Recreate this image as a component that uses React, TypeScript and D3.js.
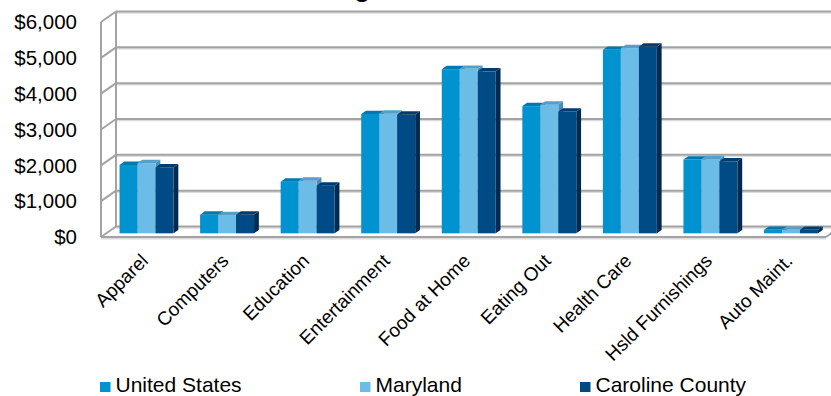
import React from "react";
import * as d3 from "d3";

const categories = [
  "Apparel",
  "Computers",
  "Education",
  "Entertainment",
  "Food at Home",
  "Eating Out",
  "Health Care",
  "Hsld Furnishings",
  "Auto Maint.",
];
const seriesNames = ["United States", "Maryland", "Caroline County"];
const unitedStates = [1910, 520, 1440, 3330, 4580, 3550, 5120, 2060, 100];
const maryland = [1960, 510, 1470, 3340, 4590, 3590, 5170, 2070, 100];
const carolineCounty = [1840, 520, 1330, 3310, 4520, 3400, 5210, 2010, 100];
const yTicks = [0, 1000, 2000, 3000, 4000, 5000, 6000];
const titleText = "Average Annual Costs";

const W = 831;
const H = 396;
const FONT = "'Liberation Sans', Arial, Helvetica, sans-serif";

// 3D box geometry: front floor edge, and depth offset toward the back wall
const floorLeft = 101;
const floorRight = 826;
const floorY = 237;
const depthX = 15;
const depthY = -10.5;
// bars sit in the middle of the depth
const barFront = 0.35;
const barDepth = 0.32;

const colors = [
  { front: "#0093d0", top: "#0079ae", side: "#00699a" },
  { front: "#6bbde8", top: "#559fc8", side: "#4a8db3" },
  { front: "#004a85", top: "#003c6d", side: "#002b50" },
];

export default function App() {
  const values = [unitedStates, maryland, carolineCounty];

  const x = d3.scaleBand<string>().domain(categories).range([floorLeft, floorRight]).paddingInner(0);
  const xs = d3
    .scaleBand<string>()
    .domain(seriesNames)
    .range([13.3, x.bandwidth() - 13.3])
    .paddingInner(0);
  const y = d3.scaleLinear().domain([0, 6000]).range([floorY, floorY - 215]);

  const bfx = depthX * barFront;
  const bfy = depthY * barFront;
  const bdx = depthX * barDepth;
  const bdy = depthY * barDepth;

  const gridColor = "#a3a3a3";
  const shadowColor = "#dcdcdc";

  const bars: React.ReactNode[] = [];
  categories.forEach((c, ci) => {
    seriesNames.forEach((s, si) => {
      const v = values[si][ci];
      const x0 = (x(c) as number) + (xs(s) as number) + bfx;
      const w = xs.bandwidth();
      const yb = y(0) + bfy;
      const yt = y(v) + bfy;
      const col = colors[si];
      bars.push(
        <g key={`${ci}-${si}`}>
          <polygon
            points={`${x0 + w},${yt} ${x0 + w + bdx},${yt + bdy} ${x0 + w + bdx},${yb + bdy} ${x0 + w},${yb}`}
            fill={col.side}
          />
          <rect x={x0} y={yt} width={w} height={yb - yt} fill={col.front} />
          <polygon
            points={`${x0},${yt} ${x0 + w},${yt} ${x0 + w + bdx},${yt + bdy} ${x0 + bdx},${yt + bdy}`}
            fill={col.top}
          />
        </g>
      );
    });
  });

  const backLeft = floorLeft + depthX;
  const backRight = floorRight + depthX;

  return (
    <svg width={W} height={H} style={{ display: "block", position: "absolute", left: 0, top: 0 }}>
      <rect width={W} height={H} fill="#ffffff" />
      {/* chart title, partly above the top edge */}
      <text x={283} y={-3.5} fontFamily={FONT} fontSize={26} fontWeight="bold" fill="#000">
        {titleText}
      </text>

      {/* back wall gridlines and side wall diagonals */}
      {yTicks.map((t) => {
        const yf = y(t);
        const yk = yf + depthY;
        return (
          <g key={t}>
            <line x1={backLeft} x2={backRight} y1={yk + 1.5} y2={yk + 1.5} stroke={shadowColor} strokeWidth={1.5} />
            <line x1={backLeft} x2={backRight} y1={yk} y2={yk} stroke={gridColor} strokeWidth={2} />
            <line x1={floorLeft} y1={yf} x2={backLeft} y2={yk} stroke={gridColor} strokeWidth={2} />
          </g>
        );
      })}
      {/* side wall verticals */}
      <line x1={floorLeft} x2={floorLeft} y1={y(6000)} y2={floorY} stroke={gridColor} strokeWidth={2} />
      <line x1={backLeft} x2={backLeft} y1={y(6000) + depthY} y2={floorY + depthY} stroke={gridColor} strokeWidth={2} />
      {/* floor front edge */}
      <line x1={floorLeft} x2={floorRight} y1={floorY + 1.5} y2={floorY + 1.5} stroke={shadowColor} strokeWidth={2} />
      <line x1={floorLeft} x2={floorRight} y1={floorY} y2={floorY} stroke={gridColor} strokeWidth={2} />
      <line x1={floorRight} y1={floorY} x2={backRight} y2={floorY + depthY} stroke={gridColor} strokeWidth={2} />

      {bars}

      {/* value axis labels */}
      {yTicks.map((t) => (
        <text
          key={t}
          x={77}
          y={y(t)}
          dy="0.35em"
          textAnchor="end"
          fontFamily={FONT}
          fontSize={20.5}
          fill="#000"
        >
          {d3.format("$,")(t)}
        </text>
      ))}

      {/* category labels */}
      {categories.map((c) => {
        const cx = (x(c) as number) + x.bandwidth() / 2 + 8;
        const cy = 262;
        return (
          <text
            key={c}
            transform={`translate(${cx},${cy}) rotate(-45)`}
            textAnchor="end"
            fontFamily={FONT}
            fontSize={19}
            fill="#000"
          >
            {c}
          </text>
        );
      })}

      {/* legend */}
      {seriesNames.map((s, i) => {
        const lx = [100, 360, 580][i];
        return (
          <g key={s}>
            <rect x={lx} y={382} width={10.5} height={10} fill={colors[i].front} />
            <text x={lx + 15.5} y={391.5} fontFamily={FONT} fontSize={21} fill="#000">
              {s}
            </text>
          </g>
        );
      })}
    </svg>
  );
}
